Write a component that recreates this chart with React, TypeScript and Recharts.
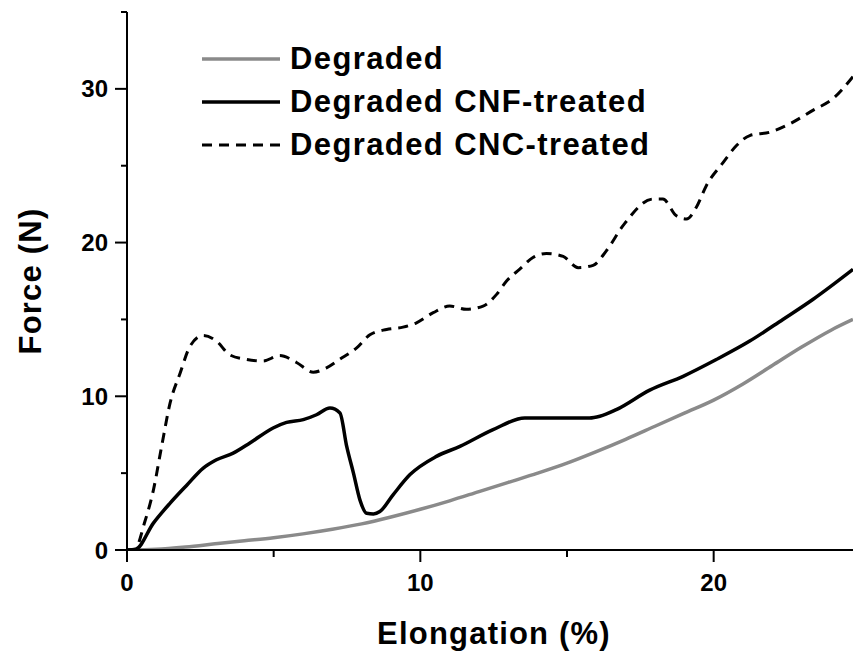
import React from 'react';
import { LineChart, Line, XAxis, YAxis, Legend } from 'recharts';

// Elongation (%) / Force (N)
const degradedX = [0, 1, 2, 3, 4, 5, 6, 7, 8, 9, 10, 11, 12, 13, 14, 15, 16, 17, 18, 19, 20, 21, 22, 23, 24, 24.75];
const degradedY = [0, 0.05, 0.2, 0.4, 0.6, 0.8, 1.05, 1.35, 1.7, 2.15, 2.65, 3.2, 3.8, 4.4, 5.0, 5.65, 6.4, 7.2, 8.05, 8.9, 9.75, 10.8, 12.0, 13.2, 14.3, 15.0];

const cnfX = [0, 0.3, 0.9, 1.47, 2.03, 2.6, 3.05, 3.62, 4.19, 4.98, 5.44, 6.01, 6.46, 6.92, 7.26, 7.49, 7.72, 7.94, 8.17, 8.4, 8.62, 9.07, 9.64, 10.55, 11.35, 12.48, 13.56, 14.5, 15.77, 16.12, 16.68, 17.82, 18.96, 20.09, 21.23, 22.36, 23.38, 24.75];
const cnfY = [0, 0.05, 1.75, 3.05, 4.2, 5.33, 5.87, 6.3, 6.96, 7.94, 8.3, 8.48, 8.8, 9.24, 8.92, 6.74, 5.0, 3.26, 2.39, 2.35, 2.5, 3.59, 4.89, 6.09, 6.74, 7.83, 8.59, 8.59, 8.59, 8.7, 9.13, 10.4, 11.3, 12.39, 13.59, 15.0, 16.3, 18.26];

const cncX = [0, 0.25, 0.61, 0.9, 1.18, 1.47, 1.81, 2.15, 2.6, 3.05, 3.5, 4.07, 4.64, 5.21, 5.78, 6.35, 6.8, 7.25, 7.83, 8.28, 8.85, 9.41, 9.87, 10.44, 11.0, 11.57, 12.14, 12.6, 12.94, 13.39, 13.84, 14.3, 14.87, 15.38, 15.89, 16.34, 16.91, 17.93, 18.27, 18.73, 19.07, 19.41, 19.75, 20.32, 20.77, 21.23, 21.91, 22.59, 23.38, 24.06, 24.75];
const cncY = [0, 0, 1.85, 3.9, 6.74, 9.57, 11.5, 13.26, 13.96, 13.59, 12.7, 12.4, 12.3, 12.65, 12.2, 11.57, 11.85, 12.4, 13.15, 14.0, 14.35, 14.5, 14.78, 15.44, 15.87, 15.66, 15.87, 16.63, 17.5, 18.27, 19.03, 19.29, 19.1, 18.37, 18.52, 19.46, 21.1, 22.83, 22.83, 21.74, 21.53, 22.3, 23.7, 25.2, 26.3, 26.96, 27.18, 27.72, 28.6, 29.35, 30.8];

const xTicks = [0, 5, 10, 15, 20];
const yTicks = [0, 5, 10, 15, 20, 25, 30, 35];
const labelledTicks = [0, 10, 20, 30];

const toPoints = (xs: number[], ys: number[]) => xs.map((x, i) => ({ x, y: ys[i] }));

const series = [
  { name: 'Degraded', data: toPoints(degradedX, degradedY), stroke: '#8a8a8a', dash: undefined },
  { name: 'Degraded CNF-treated', data: toPoints(cnfX, cnfY), stroke: '#000000', dash: undefined },
  { name: 'Degraded CNC-treated', data: toPoints(cncX, cncY), stroke: '#000000', dash: '10 7' },
];

const FONT = '"Liberation Sans", Arial, Helvetica, sans-serif';

const XTick = ({ x, y, payload }: any) => {
  const major = labelledTicks.includes(payload.value);
  return (
    <g>
      <line x1={x} x2={x} y1={y} y2={y + (major ? 12 : 7)} stroke="#000" strokeWidth={2} />
      {major && (
        <text x={x} y={y + 41} textAnchor="middle" fontFamily={FONT} fontWeight="bold" fontSize={24} fill="#000">
          {payload.value}
        </text>
      )}
    </g>
  );
};

const YTick = ({ x, y, payload }: any) => {
  const major = labelledTicks.includes(payload.value);
  return (
    <g>
      <line x1={x} x2={x - (major ? 12 : 6)} y1={y} y2={y} stroke="#000" strokeWidth={2} />
      {major && (
        <text x={x - 19} y={y + 8.5} textAnchor="end" fontFamily={FONT} fontWeight="bold" fontSize={24} fill="#000">
          {payload.value}
        </text>
      )}
    </g>
  );
};

const LegendBox = () => (
  <div style={{ fontFamily: FONT, fontWeight: 'bold', fontSize: 31, letterSpacing: 1.4, color: '#000' }}>
    {series.map((s) => (
      <div key={s.name} style={{ display: 'flex', alignItems: 'center', height: 43 }}>
        <svg width={78} height={10} style={{ marginRight: 10 }}>
          <line x1={0} x2={78} y1={5} y2={5} stroke={s.stroke} strokeWidth={s.dash ? 3 : 3.5} strokeDasharray={s.dash} />
        </svg>
        <span style={{ whiteSpace: 'nowrap', lineHeight: '43px' }}>{s.name}</span>
      </div>
    ))}
  </div>
);

export default function App() {
  return (
    <div style={{ position: 'absolute', left: 0, top: 0, width: 853, height: 654, background: '#fff' }}>
      <LineChart width={853} height={654} margin={{ top: 12, right: 0, left: 0, bottom: 0 }}>
        <XAxis
          type="number"
          dataKey="x"
          domain={[0, 24.75]}
          allowDataOverflow
          ticks={xTicks}
          interval={0}
          height={104}
          tickSize={0}
          tickMargin={0}
          tickLine={false}
          tick={<XTick />}
          axisLine={{ stroke: '#000', strokeWidth: 2 }}
          label={() => (
            <text x={494} y={644} textAnchor="middle" fontFamily={FONT} fontWeight="bold" fontSize={31} letterSpacing={1.2} fill="#000">
              Elongation (%)
            </text>
          )}
        />
        <YAxis
          type="number"
          dataKey="y"
          domain={[0, 35]}
          allowDataOverflow
          ticks={yTicks}
          interval={0}
          width={127}
          tickSize={0}
          tickMargin={0}
          tickLine={false}
          tick={<YTick />}
          axisLine={{ stroke: '#000', strokeWidth: 2 }}
          label={() => (
            <text
              x={41}
              y={281}
              transform="rotate(-90 41 281)"
              textAnchor="middle"
              fontFamily={FONT}
              fontWeight="bold"
              fontSize={31}
              letterSpacing={1.2}
              fill="#000"
            >
              Force (N)
            </text>
          )}
        />
        <Legend
          layout="vertical"
          align="center"
          verticalAlign="middle"
          content={<LegendBox />}
          wrapperStyle={{ left: 202, top: 37, width: 500, height: 130 }}
        />
        {series.map((s) => (
          <Line
            key={s.name}
            name={s.name}
            data={s.data}
            dataKey="y"
            type="monotone"
            stroke={s.stroke}
            strokeWidth={s.dash ? 3 : 3.5}
            strokeDasharray={s.dash}
            dot={false}
            activeDot={false}
            isAnimationActive={false}
          />
        ))}
      </LineChart>
    </div>
  );
}
